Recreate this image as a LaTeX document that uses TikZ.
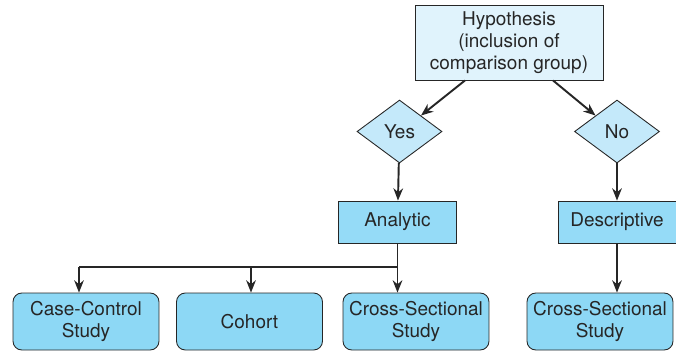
\documentclass[tikz,border=0pt]{standalone}
\usepackage{fontspec}
\setmainfont{TeX Gyre Heros}
\usetikzlibrary{arrows.meta,shapes.geometric}
\definecolor{ink}{HTML}{262626}
\definecolor{sky}{HTML}{95DBF7}
\definecolor{skydeep}{HTML}{8DD8F5}
\definecolor{skymid}{HTML}{C4E9FA}
\definecolor{skylite}{HTML}{E0F3FC}

\begin{document}
\begin{tikzpicture}[x=0.02cm,y=-0.02cm,>={Stealth[length=7pt,width=5.5pt]},
    every node/.style={font=\fontsize{10.8}{12.7}\selectfont,text=ink,align=center,inner sep=0pt},
    topbox/.style={draw=ink,line width=0.5pt,fill=skylite,minimum width=3.76cm,minimum height=1.5cm},
    choice/.style={diamond,draw=ink,line width=0.5pt,fill=skymid,minimum width=1.7cm,minimum height=1.26cm},
    kindbox/.style={draw=ink,line width=0.5pt,fill=sky,minimum width=2.36cm,minimum height=0.84cm},
    studybox/.style={draw=ink,line width=0.5pt,fill=skydeep,rounded corners=5pt,minimum width=2.92cm,minimum height=1.14cm},
    link/.style={->,draw=ink,line width=1.1pt}]
  \useasboundingbox (0,0) rectangle (676,353);
  \node[topbox] (hyp) at (509,42.5) {Hypothesis\\(inclusion of\\comparison group)};
  \node[choice] (yes) at (399.5,131.5) {Yes};
  \node[choice] (no) at (617,131.5) {No};
  \node[kindbox] (ana) at (397.5,222) {Analytic};
  \node[kindbox] (des) at (617,222) {Descriptive};
  \node[studybox] (cc) at (86,321.5) {Case-Control\\Study};
  \node[studybox] (coh) at (249.5,321.5) {Cohort};
  \node[studybox] (cs1) at (416,321.5) {Cross-Sectional\\Study};
  \node[studybox] (cs2) at (600,321.5) {Cross-Sectional\\Study};
  \coordinate (tapcc) at (79,267);
  \coordinate (tapcoh) at (251,267);
  % decision arrows
  \draw[link] (hyp.south -| 465,0) -- (yes.north east);
  \draw[link] (hyp.south -| 553,0) -- (no.north west);
  \foreach \u/\v in {yes/ana,no/des}{\draw[link] (\u) -- (\v);}
  % study branches
  \draw[link] (ana.south) -- (ana.south |- cs1.north);
  \draw[ink,line width=1.1pt] (ana.south |- tapcc) -- (tapcc);
  \draw[link] (tapcc) -- (tapcc |- cc.north);
  \draw[link] (tapcoh) -- (tapcoh |- coh.north);
  \draw[link] (des.south) -- (des.south |- cs2.north);
\end{tikzpicture}
\end{document}
